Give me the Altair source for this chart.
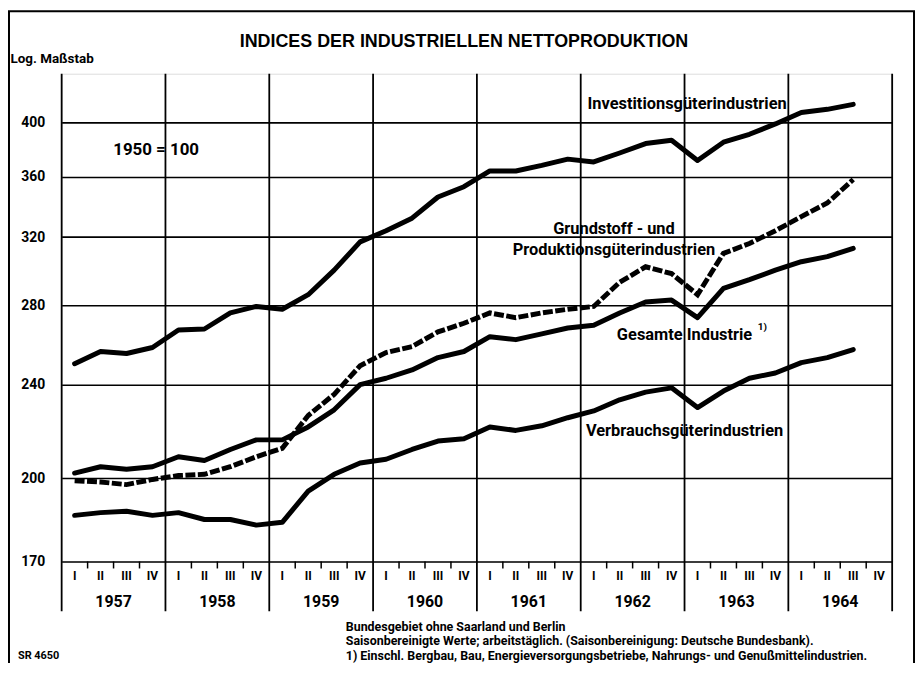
import altair as alt
import pandas as pd

# ---------------- data ----------------
years = [1957, 1958, 1959, 1960, 1961, 1962, 1963, 1964]
quarter_labels = ["I", "II", "III", "IV"]

# quarterly index values, 1957 I ... 1964 III (1950 = 100)
investition = [250, 256, 255, 258, 267, 267.5, 276, 279.5,
               278, 286, 300, 317, 324, 332, 346, 353,
               364, 364, 368, 372.5, 370.5, 377, 384, 386.5,
               371.5, 385, 391, 399, 408, 410.5, 414.5]
grundstoff = [199, 198.5, 197.5, 199.5, 201, 201.5, 204.5, 208.5,
              212, 226, 235.5, 249, 255.5, 258.5, 266, 270.5,
              276, 273.5, 276, 278, 279.5, 293, 302, 298,
              286, 310, 316, 324, 333, 342, 358]
gesamt = [202, 204.5, 203.5, 204.5, 208.5, 207, 211.5, 215.5,
          215.5, 221, 228.5, 240, 243, 247, 253, 256,
          263.5, 262, 265, 268, 269.5, 276, 282, 283,
          273.5, 289.5, 294.5, 300, 305, 308, 313]
verbrauch = [186, 187, 187.5, 186, 187, 184.5, 184.5, 182.5,
             183.5, 195, 201.5, 206, 207.5, 211.5, 215, 216,
             221, 219.5, 221.5, 225, 228, 233, 236.5, 238.5,
             229.5, 237, 243, 245.5, 250.5, 253, 257]

y_ticks = [170, 200, 240, 280, 320, 360, 400]

# series labels: text, x (quarter units), y (index value)
label_text = ["Investitionsgüterindustrien", "Grundstoff - und",
              "Produktionsgüterindustrien", "Gesamte Industrie",
              "Verbrauchsgüterindustrien"]
label_x = [24.1, 21.28, 21.28, 24.0, 24.0]
label_y = [414.8, 324.9, 311.9, 264.5, 219.2]

base_text = ["1950 = 100"]
base_x = [3.64]
base_y = [379.4]

title_text = "INDICES DER INDUSTRIELLEN NETTOPRODUKTION"
footnote = ("Bundesgebiet ohne Saarland und Berlin\n"
            "Saisonbereinigte Werte; arbeitstäglich. (Saisonbereinigung: Deutsche Bundesbank).\n"
            "1) Einschl. Bergbau, Bau, Energieversorgungsbetriebe, Nahrungs- und Genußmittelindustrien.")

# ---------------- tables ----------------
n = len(investition)
pos = [i + 0.5 for i in range(n)]
solid_rows = []
for name, vals in [("Investitionsgüter", investition), ("Gesamte Industrie", gesamt),
                   ("Verbrauchsgüter", verbrauch)]:
    for p, v in zip(pos, vals):
        solid_rows.append({"series": name, "pos": p, "value": v})
solid_df = pd.DataFrame(solid_rows)
dash_df = pd.DataFrame({"series": "Grundstoff", "pos": pos, "value": grundstoff})

year_df = pd.DataFrame({"b": [4 * k for k in range(len(years) + 1)]})
qtick_df = pd.DataFrame({"b": [q for q in range(1, 4 * len(years)) if q % 4 != 0]})
qlab_df = pd.DataFrame({"pos": [i + 0.5 for i in range(4 * len(years))],
                        "lab": [quarter_labels[i % 4] for i in range(4 * len(years))]})
ylab_df = pd.DataFrame({"pos": [4 * k + 2 for k in range(len(years))],
                        "lab": [str(y) for y in years]})
lab_df = pd.DataFrame({"t": label_text, "x": label_x, "y": label_y})
base_df = pd.DataFrame({"t": base_text, "x": base_x, "y": base_y})
sup_df = pd.DataFrame({"t": ["1)"], "x": [27.0], "y": [268.5]})
foot_df = pd.DataFrame({"t": [footnote]})
sr_df = pd.DataFrame({"t": ["SR 4650"]})
title_df = pd.DataFrame({"t": [title_text]})

# ---------------- styling ----------------
W, H = 836, 491
NARROW = "Roboto, Liberation Sans, sans-serif"
WIDE = "Liberation Sans, Arial, sans-serif"

xs = alt.Scale(domain=[0, 32], nice=False, zero=False)
ys = alt.Scale(type="log", domain=[170, 440], nice=False)
y_axis = alt.Axis(values=y_ticks, grid=True, gridColor="black", gridWidth=1.6,
                  gridOpacity=1, domain=False, ticks=False, labelFont=NARROW,
                  labelFontWeight="bold", labelFontSize=14, labelColor="black",
                  labelPadding=17, labelFlush=False, labelOverlap=False,
                  title="Log. Maßstab", titleAngle=0, titleAlign="left",
                  titleBaseline="middle", titleX=-52, titleY=-15, titleFont=NARROW,
                  titleFontSize=13.5, titleFontWeight="bold", titleColor="black")

X = lambda f: alt.X(f, type="quantitative", scale=xs, axis=None)
Y = lambda f: alt.Y(f, type="quantitative", scale=ys, axis=y_axis)

frame = alt.Chart(sr_df).mark_rect(fill=None, stroke="black", strokeWidth=2).encode(
    x=alt.value(-53), x2=alt.value(858), y=alt.value(-63), y2=alt.value(700))

title = alt.Chart(title_df).mark_text(font=WIDE, fontWeight="bold", fontSize=18,
                                      baseline="middle", color="black").encode(
    x=alt.value(405), y=alt.value(-32), text="t:N")

year_rules = alt.Chart(year_df).mark_rule(color="black", strokeWidth=1.8).encode(
    x=X("b"), y=alt.value(0), y2=alt.value(H + 50))

qticks = alt.Chart(qtick_df).mark_rule(color="black", strokeWidth=1.5).encode(
    x=X("b"), y=alt.value(H), y2=alt.value(H + 7))

qlabels = alt.Chart(qlab_df).mark_text(font=NARROW, fontWeight="bold", fontSize=12,
                                       baseline="middle", color="black").encode(
    x=X("pos"), y=alt.value(H + 15), text="lab:N")

ylabels = alt.Chart(ylab_df).mark_text(font=NARROW, fontWeight="bold", fontSize=16,
                                       baseline="middle", color="black").encode(
    x=X("pos"), y=alt.value(H + 41), text="lab:N")

solid = alt.Chart(solid_df).mark_line(color="black", strokeWidth=5, strokeCap="round",
                                      strokeJoin="round").encode(
    x=X("pos"), y=Y("value"), detail="series:N")

dashed = alt.Chart(dash_df).mark_line(color="black", strokeWidth=5, strokeCap="butt",
                                      strokeDash=[10, 2.5]).encode(
    x=X("pos"), y=Y("value"))

labels = alt.Chart(lab_df).mark_text(font=NARROW, fontWeight="bold", fontSize=16.5,
                                     baseline="middle", color="black").encode(
    x=X("x"), y=Y("y"), text="t:N")

base = alt.Chart(base_df).mark_text(font=NARROW, fontWeight="bold", fontSize=17,
                                    baseline="middle", color="black").encode(
    x=X("x"), y=Y("y"), text="t:N")

sup = alt.Chart(sup_df).mark_text(font=NARROW, fontWeight="bold", fontSize=10,
                                  baseline="middle", color="black").encode(
    x=X("x"), y=Y("y"), text="t:N")

foot = alt.Chart(foot_df).mark_text(font=NARROW, fontWeight="bold", fontSize=12.5,
                                    align="left", baseline="middle", lineBreak="\n",
                                    lineHeight=14.5, color="black").encode(
    x=alt.value(286), y=alt.value(557), text="t:N")

sr = alt.Chart(sr_df).mark_text(font=NARROW, fontWeight="bold", fontSize=11,
                                align="left", baseline="middle", color="black").encode(
    x=alt.value(-44), y=alt.value(586), text="t:N")

chart = alt.layer(frame, title, year_rules, qticks, qlabels, ylabels, solid, dashed,
                  labels, base, sup, foot, sr).properties(
    width=W, height=H,
    padding={"left": 54, "top": 64, "right": 24, "bottom": 100},
    autosize=alt.AutoSizeParams(type="none"),
).configure_view(stroke="black", strokeWidth=2).configure(background="white")

chart.save("out.html", embed_options={"renderer": "svg", "actions": False})
